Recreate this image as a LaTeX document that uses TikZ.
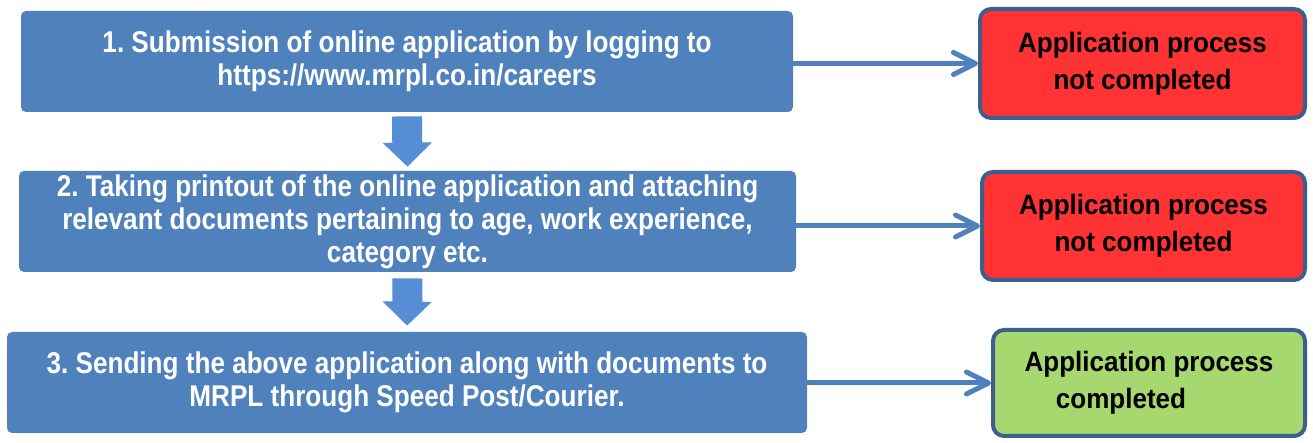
\documentclass[tikz,border=0pt]{standalone}
\usepackage{fontspec}
\setmainfont[FakeStretch=0.93]{Liberation Sans}
\newfontfamily\stepfont[FakeStretch=0.87]{Liberation Sans}
\usetikzlibrary{arrows.meta}
\frenchspacing

\definecolor{stepblue}{HTML}{4F81BD}
\definecolor{downblue}{HTML}{558ED5}
\definecolor{edgeblue}{HTML}{3B5F8E}
\definecolor{failred}{HTML}{FF3333}
\definecolor{passgreen}{HTML}{A6D86F}

\begin{document}
\begin{tikzpicture}[x=0.5pt, y=-0.5pt,
  stepbox/.style = {fill=stepblue, rounded corners=2.5pt, align=center, text=white,
                    font=\stepfont\fontsize{15}{16.5}\selectfont\bfseries, inner sep=0pt},
  resultbox/.style = {draw=edgeblue, line width=2pt, rounded corners=5.5pt, align=center,
                      font=\fontsize{14}{18.5}\selectfont\bfseries, inner sep=0pt},
  downarrow/.style = {draw=downblue, line width=15pt, -{Triangle[width=24pt, length=12pt]}},
  sidearrow/.style = {draw=stepblue, line width=2.5pt,
                      -{Straight Barb[length=11pt, width=11pt, round]}},
  ]

\useasboundingbox (0,0) rectangle (1313,443);

% Steps on the left
\node[stepbox, minimum width=386pt, minimum height=50.5pt] (step1) at (407,61.5)
  {1. Submission of online application by logging to\\https://www.mrpl.co.in/careers};
\node[stepbox, minimum width=388.5pt, minimum height=50.5pt] (step2) at (407.5,221.5)
  {2. Taking printout of the online application and attaching\\relevant documents pertaining to age, work experience,\\category etc.};
\node[stepbox, minimum width=400pt, minimum height=50.5pt] (step3) at (407,382.5)
  {3. Sending the above application along with documents to\\MRPL through Speed Post/Courier.};

% Results on the right
\node[resultbox, fill=failred, minimum width=162.5pt, minimum height=54.5pt] (res1) at (1142.5,63.5)
  {\raisebox{-1pt}{Application process}\\\raisebox{-1pt}{not completed}};
\node[resultbox, fill=failred, minimum width=161.5pt, minimum height=54pt] (res2) at (1143.5,226)
  {\raisebox{-1pt}{Application process}\\\raisebox{-1pt}{not completed}};
\node[resultbox, fill=passgreen, minimum width=156pt, minimum height=53pt] (res3) at (1149,383)
  {\raisebox{-1pt}{Application process}\\\hspace*{-2em}\raisebox{-1pt}{completed}};

% Arrows between the steps
\draw[downarrow, shorten <=2pt, shorten >=2pt] (step1.south) -- (step2.north);
\draw[downarrow, shorten <=3pt, shorten >=3pt] (step2.south) -- (step3.north);

% Arrows to the results
\draw[sidearrow] (res1.west -| step1.east) -- (res1.west);
\draw[sidearrow] (res2.west -| step2.east) -- (res2.west);
\draw[sidearrow] (res3.west -| step3.east) -- (res3.west);

\end{tikzpicture}
\end{document}
